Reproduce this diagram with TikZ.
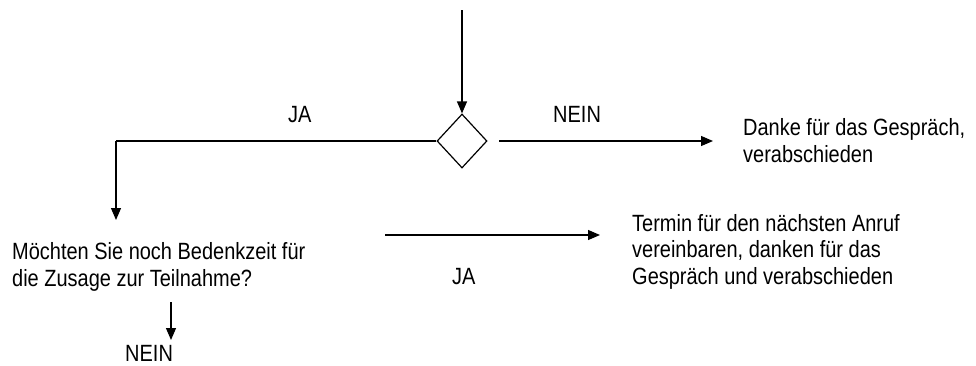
\documentclass[tikz,border=0pt]{standalone}
\usepackage{fontspec}
\setmainfont{Liberation Sans}[FakeStretch=0.85]
\usetikzlibrary{arrows.meta,shapes.geometric}
\begin{document}
\begin{tikzpicture}[x=1pt,y=-1pt,
  conn/.style={line width=1.2pt,-{Triangle[length=12pt,width=10pt]}},
  plain/.style={line width=1.2pt},
  txt/.style={anchor=base west,inner sep=0pt,align=left,font=\fontsize{23.5}{26.5}\selectfont},
  decision/.style={draw,line width=1.2pt,shape=diamond,inner sep=0pt,minimum width=50pt,minimum height=54pt}]
\useasboundingbox (0,0) rectangle (976,365);
\node[decision] (d) at (462,141) {};
\coordinate (top) at (462,10);
\coordinate (bend) at (116,141);
\coordinate (leftin) at (116,220);
\coordinate (nstart) at (499,141);
\coordinate (nend) at (713,141);
\coordinate (mstart) at (385,235);
\coordinate (mend) at (600,235);
\coordinate (dstart) at (171,302);
\coordinate (dend) at (171,340);
\node[txt] (ja1) at (288,122) {JA};
\node[txt] (nein1) at (553,122) {NEIN};
\node[txt] (danke) at (743,162) {Danke für das Gespräch,\\verabschieden};
\node[txt] (frage) at (12,286) {Möchten Sie noch Bedenkzeit für\\die Zusage zur Teilnahme?};
\node[txt] (termin) at (632,284) {Termin für den nächsten Anruf\\vereinbaren, danken für das\\Gespräch und verabschieden};
\node[txt] (ja2) at (452,284) {JA};
\node[txt] (nein2) at (125,361) {NEIN};
\draw[conn] (top) -- (d.north);
\draw[plain] (d.west) -- (bend);
\draw[conn] (bend) -- (leftin);
\draw[conn] (nstart) -- (nend);
\draw[conn] (mstart) -- (mend);
\draw[conn] (dstart) -- (dend);
\end{tikzpicture}
\end{document}
